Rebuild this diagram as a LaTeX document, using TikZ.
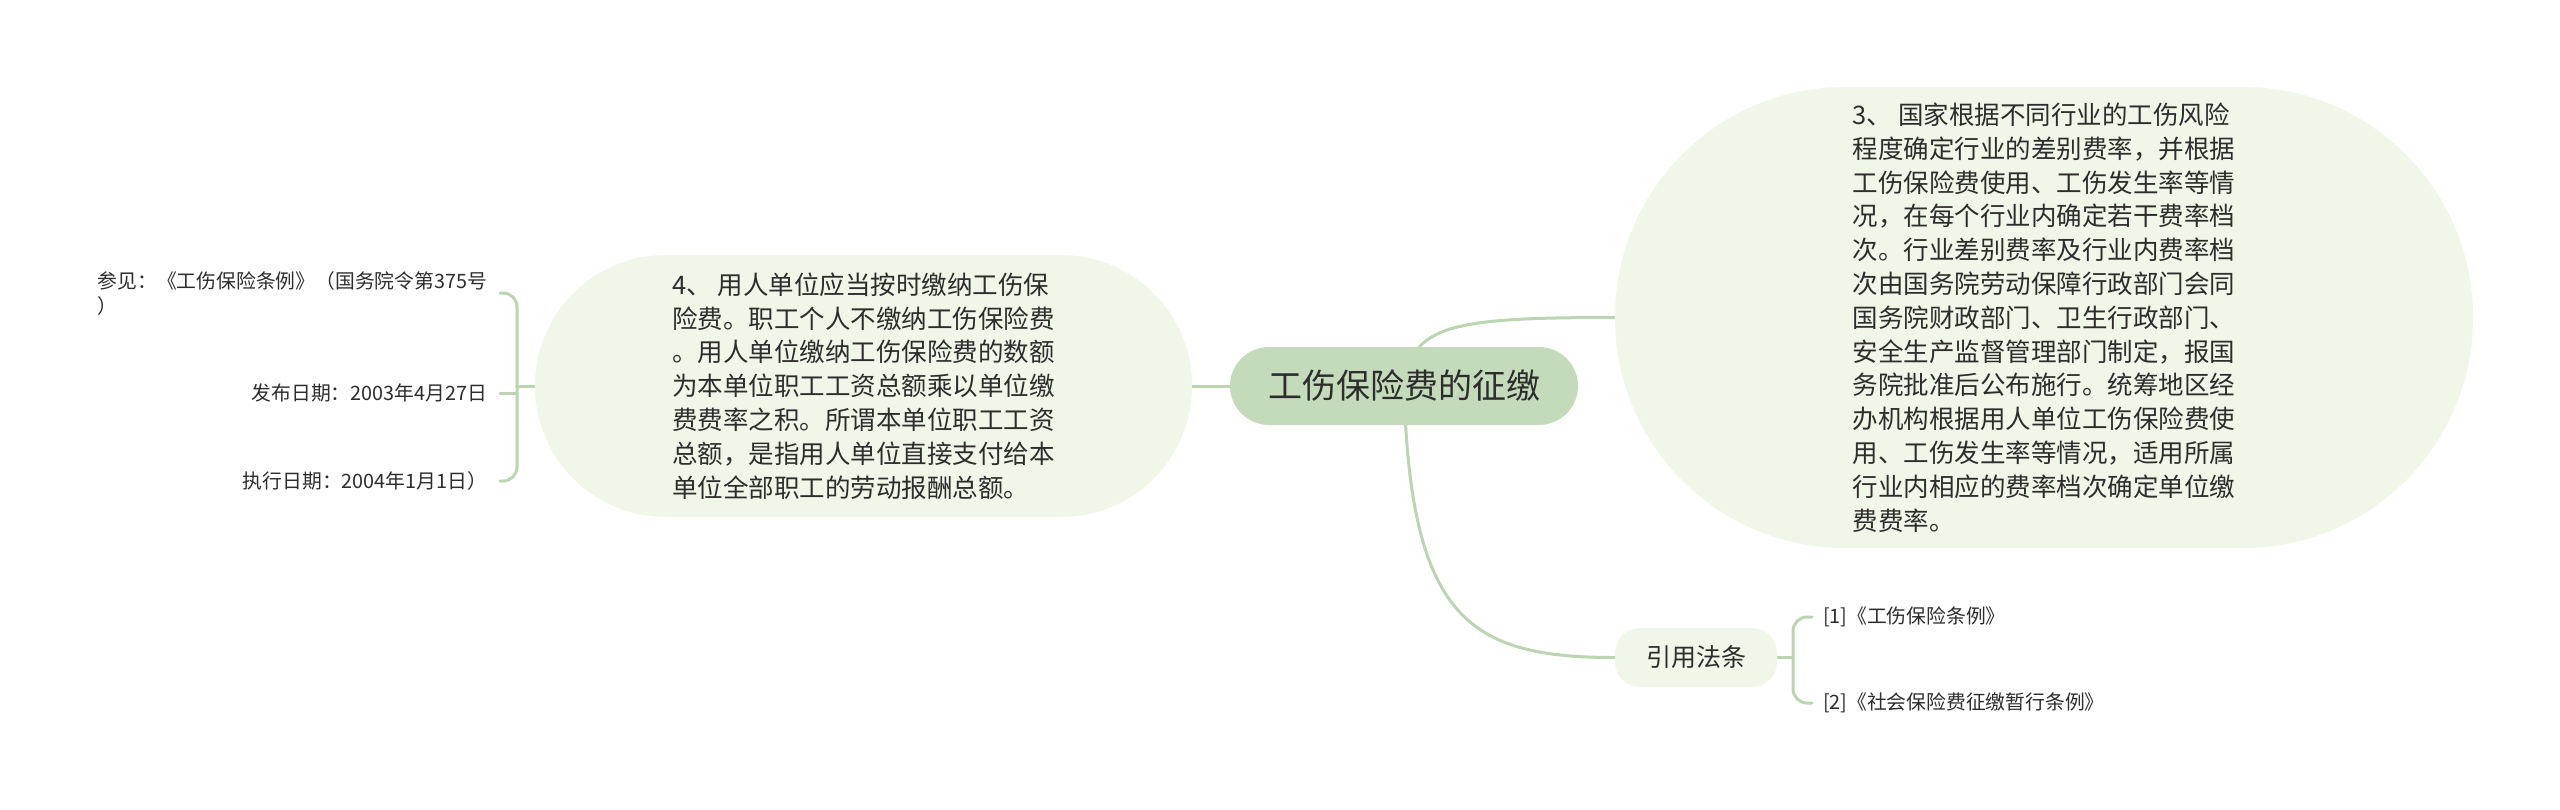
\documentclass[tikz,border=0pt]{standalone}
\usepackage{fontspec}
\setmainfont{Noto Sans CJK SC}
\usetikzlibrary{backgrounds}
\definecolor{lineC}{RGB}{187,212,178}
\definecolor{rootC}{RGB}{196,219,187}
\definecolor{topicC}{RGB}{240,246,232}
\definecolor{txtC}{RGB}{45,45,45}
\begin{document}
\begin{tikzpicture}[x=1pt,y=-1pt,
  conn/.style={draw=lineC, line width=3pt, line cap=round},
  rootbox/.style={fill=rootC, rounded corners=39pt, minimum width=348pt, minimum height=78pt, inner sep=0pt, text=txtC, font=\fontsize{34}{40}\selectfont},
  topicbox/.style={fill=topicC, inner sep=0pt, text=txtC, align=left, font=\fontsize{25.5}{33.8}\selectfont},
  subbox/.style={fill=topicC, rounded corners=25pt, minimum width=162pt, minimum height=59pt, inner sep=0pt, text=txtC, font=\fontsize{25}{30}\selectfont},
  leaf/.style={inner sep=0pt, text=txtC, align=left, font=\fontsize{19.8}{25}\selectfont}
]
\useasboundingbox (0,0) rectangle (2560,809);

\node[rootbox] (c) at (1404,386) {工伤保险费的征缴};

\node[topicbox, minimum width=657pt, minimum height=262pt, rounded corners=131pt] (ln) at (863.5,386) {4、 用人单位应当按时缴纳工伤保\\险费。职工个人不缴纳工伤保险费\\。用人单位缴纳工伤保险费的数额\\为本单位职工工资总额乘以单位缴\\费费率之积。所谓本单位职工工资\\总额，是指用人单位直接支付给本\\单位全部职工的劳动报酬总额。};

\node[topicbox, minimum width=858pt, minimum height=461pt, rounded corners=230pt] (rn) at (2044,317.5) {3、 国家根据不同行业的工伤风险\\程度确定行业的差别费率，并根据\\工伤保险费使用、工伤发生率等情\\况，在每个行业内确定若干费率档\\次。行业差别费率及行业内费率档\\次由国务院劳动保障行政部门会同\\国务院财政部门、卫生行政部门、\\安全生产监督管理部门制定，报国\\务院批准后公布施行。统筹地区经\\办机构根据用人单位工伤保险费使\\用、工伤发生率等情况，适用所属\\行业内相应的费率档次确定单位缴\\费费率。};

\node[subbox] (cite) at (1696,657.5) {引用法条};

\node[leaf, anchor=east, outer xsep=13pt] (lf1) at (500,293) {参见：《工伤保险条例》（国务院令第375号\\）};
\node[leaf, anchor=east, outer xsep=13pt] (lf2) at (500,393) {发布日期：2003年4月27日};
\node[leaf, anchor=east, outer xsep=13pt] (lf3) at (500,481) {执行日期：2004年1月1日）};

\node[leaf, anchor=west, outer xsep=11pt] (rf1) at (1812,617) {[1]《工伤保险条例》};
\node[leaf, anchor=west, outer xsep=11pt] (rf2) at (1812,703) {[2]《社会保险费征缴暂行条例》};

\coordinate (jl) at (517,386);
\coordinate (jr) at (1793,657.5);

\begin{pgfonlayer}{background}
\fill[white] (0,0) rectangle (2560,809);
\draw[conn] (ln.east) -- (c.west);
\draw[conn] (c.center) .. controls (1412,325) and (1450,317.5) .. (rn.west);
\draw[conn] (c.center) .. controls (1410,620) and (1470,657.5) .. (cite.west);
\draw[conn] (ln.west) -- (jl);
\draw[conn, rounded corners=14pt] (jl) |- (lf1.east);
\draw[conn] (lf2.east) -- (jl |- lf2.east);
\draw[conn, rounded corners=14pt] (jl) |- (lf3.east);
\draw[conn] (cite.east) -- (jr);
\draw[conn, rounded corners=14pt] (jr) |- (rf1.west);
\draw[conn, rounded corners=14pt] (jr) |- (rf2.west);
\end{pgfonlayer}
\end{tikzpicture}
\end{document}
